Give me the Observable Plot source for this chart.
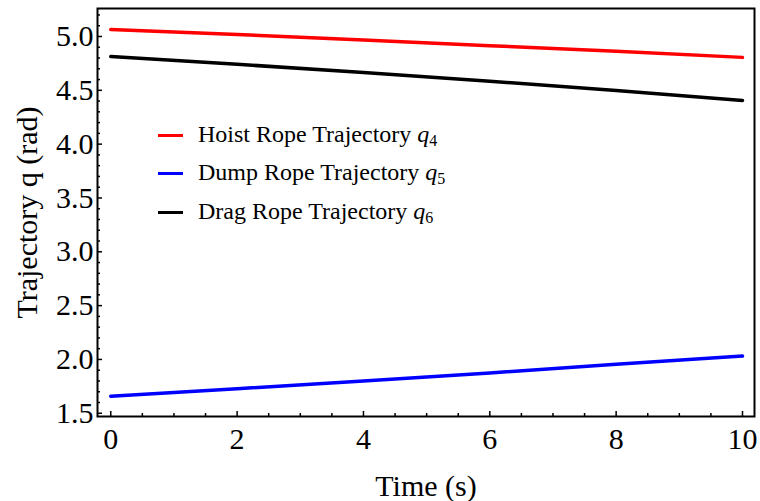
<!DOCTYPE html>
<html>
<head>
<meta charset="utf-8">
<script src="https://cdn.jsdelivr.net/npm/d3@7"></script>
<script src="https://cdn.jsdelivr.net/npm/@observablehq/plot@0.6"></script>
<style>
  html, body { margin: 0; padding: 0; background: #fff; }
  #wrap { position: relative; width: 760px; height: 501px; font-family: "Liberation Serif", "Times New Roman", serif; }
  .legend { position: absolute; left: 0; top: 0; }
  .row { position: absolute; left: 158px; height: 0; white-space: nowrap; }
  .swatch { position: absolute; left: 0; top: -1.5px; width: 25px; height: 3px; }
  .lbl { position: absolute; left: 40px; top: -15px; font-size: 24px; line-height: 28px; color: #000; }
  .lbl i { font-style: italic; }
  .lbl sub { font-size: 16px; vertical-align: -4px; line-height: 0; }
</style>
</head>
<body>
<div id="wrap"></div>
<script>
const time = [0, 2, 4, 6, 8, 10];
const hoist = [5.066, 5.018, 4.968, 4.915, 4.862, 4.806];
const dump = [1.659, 1.728, 1.800, 1.875, 1.955, 2.031];
const drag = [4.814, 4.742, 4.665, 4.585, 4.498, 4.406];
const seriesNames = ["Hoist Rope Trajectory", "Dump Rope Trajectory", "Drag Rope Trajectory"];
const seriesSubs = ["4", "5", "6"];
const seriesColors = ["#ff0000", "#0000ff", "#000000"];
const xTicks = [0, 2, 4, 6, 8, 10];
const yTicks = [1.5, 2.0, 2.5, 3.0, 3.5, 4.0, 4.5, 5.0];

const seriesValues = [hoist, dump, drag];
const rows = [];
seriesValues.forEach((vals, i) => {
  vals.forEach((v, j) => rows.push({t: time[j], q: v, s: seriesNames[i]}));
});

const xMinor = d3.range(0, 10.01, 0.5).filter(v => !xTicks.includes(v));
const yMinor = d3.range(15, 53, 1).map(v => v / 10).filter(v => Math.round(v * 10) % 5 !== 0);
const blank = () => "";

const font = "Liberation Serif";
const chart = Plot.plot({
  width: 760,
  height: 501,
  marginLeft: 97,
  marginRight: 6,
  marginTop: 8,
  marginBottom: 85,
  style: {fontFamily: font, fontSize: "29px", color: "#000", background: "#fff"},
  x: {domain: [-0.21, 10.19]},
  y: {domain: [1.47, 5.26]},
  color: {domain: seriesNames, range: seriesColors},
  marks: [
    Plot.line(rows, {x: "t", y: "q", z: "s", stroke: "s", strokeWidth: 3.5}),
    Plot.frame({stroke: "#000", strokeWidth: 2}),
    Plot.axisX({ticks: xTicks, tickSize: -5, tickFormat: blank, label: null, strokeWidth: 1.5}),
    Plot.axisX({ticks: xMinor, tickSize: -3, tickFormat: blank, label: null, strokeWidth: 1.5}),
    Plot.axisX({ticks: xTicks, tickSize: 0, tickPadding: 11, tickFormat: d => String(d), fontSize: 30,
      label: "Time (s)", labelAnchor: "center", labelArrow: "none", labelOffset: 79}),
    Plot.axisY({ticks: yTicks, tickSize: -5, tickFormat: blank, label: null, strokeWidth: 1.5}),
    Plot.axisY({ticks: yMinor, tickSize: -3, tickFormat: blank, label: null, strokeWidth: 1.5}),
    Plot.axisY({ticks: yTicks, tickSize: 0, tickPadding: 4, tickFormat: d => d.toFixed(1), fontSize: 30,
      label: "Trajectory q (rad)", labelAnchor: "center", labelArrow: "none", labelOffset: 82})
  ]
});

const wrap = document.getElementById("wrap");
wrap.appendChild(chart);

const legend = document.createElement("div");
legend.className = "legend";
const legendY = [135, 173, 212];
seriesNames.forEach((name, i) => {
  const row = document.createElement("div");
  row.className = "row";
  row.style.top = legendY[i] + "px";
  row.innerHTML = `<div class="swatch" style="background:${seriesColors[i]}"></div>` +
    `<div class="lbl">${name} <i>q</i><sub>${seriesSubs[i]}</sub></div>`;
  legend.appendChild(row);
});
wrap.appendChild(legend);
</script>
</body>
</html>
